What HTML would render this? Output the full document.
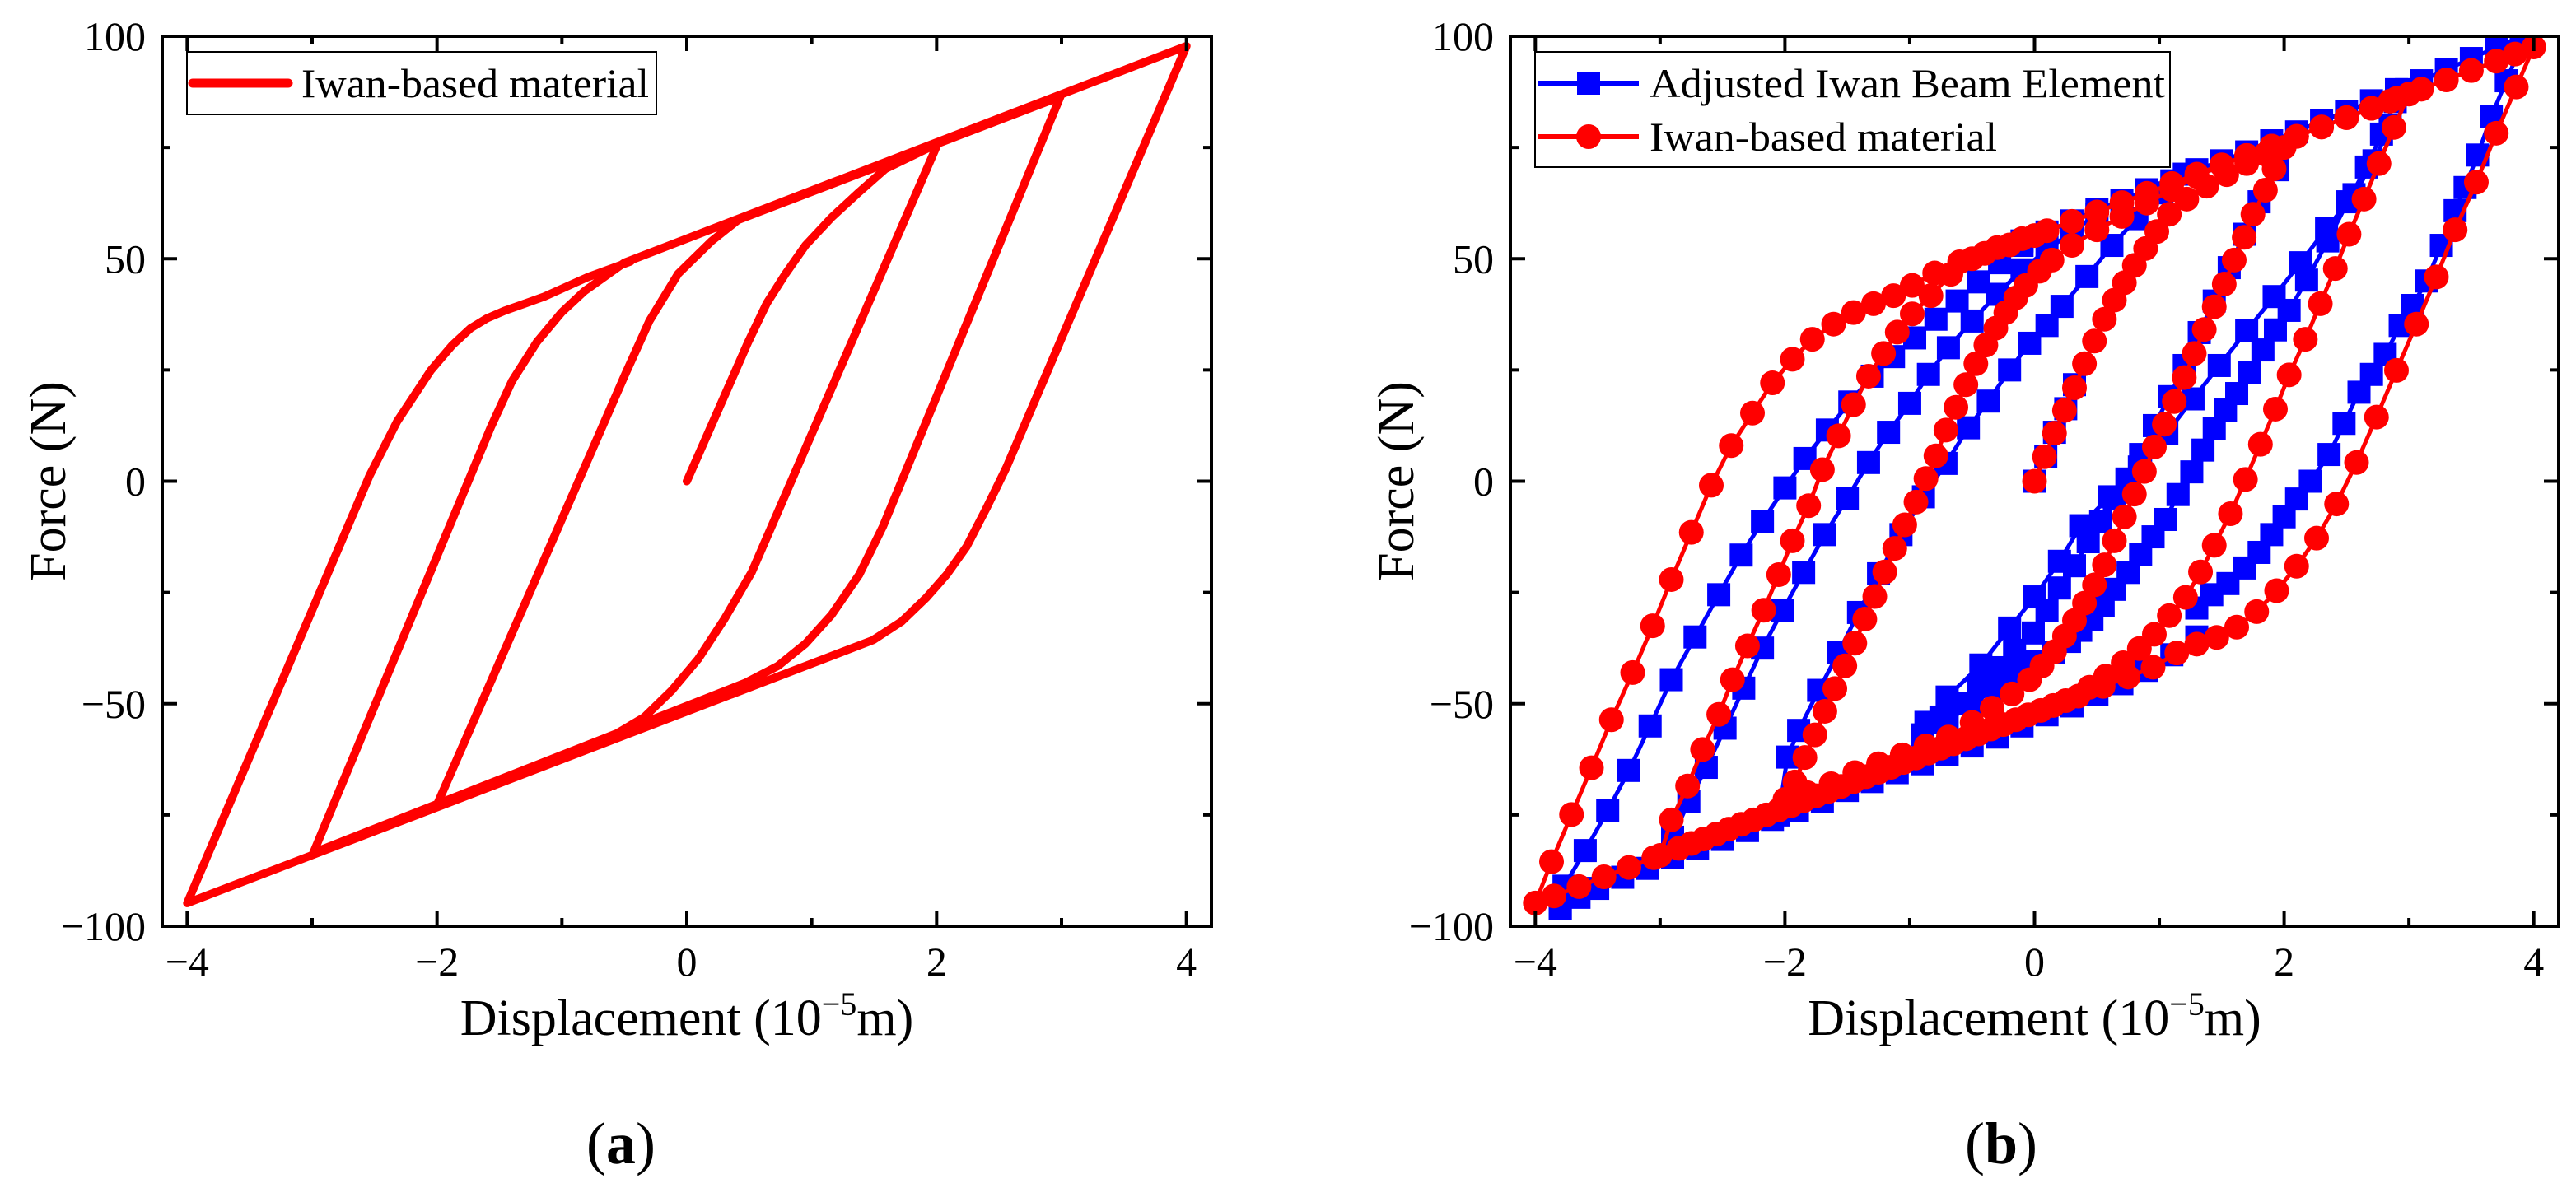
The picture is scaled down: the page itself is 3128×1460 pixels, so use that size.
<!DOCTYPE html>
<html><head><meta charset="utf-8"><style>
html,body{margin:0;padding:0;background:#fff;}
svg{display:block;}
text{font-family:"Liberation Serif","Times New Roman",serif;fill:#000;}
</style></head><body>
<svg id="fig" width="3128" height="1460" viewBox="0 0 3128 1460" xmlns="http://www.w3.org/2000/svg">
<defs>
<clipPath id="clipA"><rect x="197" y="44" width="1274" height="1081"/></clipPath>
<clipPath id="clipB"><rect x="1834" y="44" width="1273" height="1081"/></clipPath>
</defs>
<g id="panelA"></g>
<g id="panelB"></g>
</svg>
<script>
// ---------- tick data ----------
const xMajorTicks = [-4, -2, 0, 2, 4];
const xMinorTicks = [-3, -1, 1, 3];
const yMajorTicks = [-100, -50, 0, 50, 100];
const yMinorTicks = [-75, -25, 25, 75];
const xTickLabels = ["\u22124", "\u22122", "0", "2", "4"];
const yTickLabels = ["\u2212100", "\u221250", "0", "50", "100"];

// ---------- panel (a): Iwan-based material (single hysteresis path) ----------
const dispA = [0,0.49,0.64,0.79,0.95,1.16,1.38,1.59,2.01,
  0.52,0.30,0.09,-0.12,-0.34,-0.61,-2.0,
  -0.5,-0.3,-0.07,0.2,0.41,2.99,
  1.57,1.38,1.16,0.95,0.73,0.47,-2.99,
  -1.57,-1.4,-1.2,-1.0,-0.82,-0.5,4.0,
  2.56,2.4,2.24,2.08,1.92,1.72,1.49,-4.0,
  -2.54,-2.32,-2.05,-1.88,-1.73,-1.6,-1.46,-1.14,-0.8,-0.45];
const forceA = [0,31.2,40,46.6,53,59.3,65,70.2,75.9,
  -20.4,-31,-40,-47,-53,-57.5,-72.7,
  23.6,36,46.6,54,58.7,86.4,
  -10.2,-21,-30,-36.5,-41.5,-45.3,-83.5,
  12.1,22.5,31.3,38,42.7,49.1,97.8,
  3.2,-6,-14.7,-21,-26.1,-31.5,-35.7,-94.8,
  1.3,13.4,24.9,30.5,34.4,36.6,38.3,41.5,45.8,49.4];

// ---------- panel (b): Iwan-based material (red circles) ----------
const redX1 = [0,0.08,0.16,0.24,0.32,0.40,0.48,0.56,0.64,0.72,0.80,0.89,0.98,1.08,1.22,1.38,1.54,1.70,1.85,2.0];
const redY1 = [0,5.5,10.8,15.9,21,26.4,31.5,36.4,40.7,44.6,48.5,52.3,56.1,60,63.4,66.3,68.9,71.4,73.5,75];
const redX2 = [1.92,1.85,1.75,1.68,1.60,1.52,1.44,1.36,1.28,1.20,1.12,1.04,0.96,0.88,0.80,0.72,0.64,0.56,0.48,0.40,0.32,0.24,0.16,0.06,-0.04,-0.18,-0.34,-0.50,-0.69,-0.87,-1.06,-1.25,-1.44,-1.63,-1.82,-2.0];
const redY2 = [70.2,65.4,60,54.8,49.7,44.3,39.2,34.1,28.7,23.3,17.9,12.8,7.7,2.2,-2.9,-8,-13.4,-18.8,-23.3,-27.4,-31.3,-34.8,-38.3,-41.5,-44.6,-47.8,-51,-54.2,-57.5,-59.5,-61.5,-63.5,-65.5,-68,-70,-71.5];
const redX3 = [-1.92,-1.84,-1.76,-1.68,-1.60,-1.52,-1.44,-1.36,-1.28,-1.20,-1.12,-1.04,-0.95,-0.87,-0.79,-0.71,-0.63,-0.55,-0.47,-0.39,-0.31,-0.23,-0.15,-0.07,0.04,0.14,0.3,0.5,0.7,0.9,1.1,1.3,1.5,1.7,1.9,2.1,2.3,2.5,2.7,2.85,3.0];
const redY3 = [-67.6,-62.1,-57,-51.7,-46.6,-41.5,-36.4,-31,-25.9,-20.4,-15.1,-9.8,-4.7,0.6,5.7,11.5,16.6,21.7,26.4,30.6,34.4,37.9,41.2,44,47.2,49.7,53,56.5,59.5,62.5,65.5,68.5,71,73.2,75.3,77.5,79.6,81.7,83.8,85.4,87];
const redX4 = [2.88,2.76,2.64,2.52,2.41,2.29,2.17,2.04,1.93,1.81,1.69,1.57,1.44,1.33,1.21,1.08,0.96,0.84,0.71,0.57,0.44,0.25,0.05,-0.15,-0.35,-0.55,-0.75,-0.95,-1.15,-1.35,-1.55,-1.75,-1.95,-2.15,-2.35,-2.55,-2.75,-3.0];
const redY4 = [79.5,71.4,63.4,55.5,47.8,39.9,31.9,23.9,16.2,8.3,0.4,-7.3,-14.4,-20.4,-26.1,-30.2,-34.4,-37.6,-40.8,-43.8,-46.3,-49.3,-51.5,-53.6,-55.7,-57.9,-60,-62.2,-64.3,-66.4,-68.6,-70.7,-72.9,-75,-77.1,-79.3,-81.4,-84.1];
const redX5 = [-2.91,-2.78,-2.66,-2.53,-2.42,-2.30,-2.17,-2.05,-1.94,-1.81,-1.70,-1.57,-1.45,-1.33,-1.21,-1.10,-0.98,-0.83,-0.67,-0.5,-0.3,-0.1,0.1,0.3,0.5,0.7,0.9,1.1,1.3,1.5,1.7,1.9,2.1,2.3,2.5,2.7,2.9,3.1,3.3,3.5,3.7,3.85,4.0];
const redY5 = [-76.1,-68.5,-60.3,-52.4,-44.6,-37,-29,-21,-13.4,-5.5,2.6,10.2,17.2,23.6,28.7,33.5,37.6,41.7,46.5,50,52.5,54.5,56.3,58.4,60.5,62.6,64.7,66.9,69,71.1,73.2,75.3,77.5,79.6,81.7,83.8,86,88.1,90.2,92.3,94.4,96,97.6];
const redX6 = [3.86,3.70,3.54,3.37,3.22,3.06,2.90,2.74,2.58,2.42,2.26,2.10,1.94,1.78,1.62,1.46,1.30,1.14,0.95,0.75,0.55,0.35,0.15,-0.05,-0.25,-0.45,-0.65,-0.85,-1.05,-1.25,-1.45,-1.65,-1.85,-2.05,-2.25,-2.45,-2.65,-2.85,-3.05,-3.25,-3.45,-3.65,-3.85,-4.0];
const redY6 = [88.6,78.2,67.2,56.5,45.9,35.3,24.9,14.4,4.2,-5.1,-12.8,-19.1,-24.6,-29.3,-32.8,-35.1,-36.6,-38.6,-41.8,-44,-46.1,-48.3,-50.4,-52.5,-54.7,-56.8,-59,-61.1,-63.2,-65.4,-67.5,-69.7,-71.8,-73.9,-76.1,-78.2,-80.4,-82.5,-84.6,-86.8,-88.9,-91.1,-93.2,-94.8];
const redX7 = [-3.87,-3.71,-3.55,-3.39,-3.22,-3.06,-2.91,-2.75,-2.59,-2.43,-2.26,-2.10,-1.94,-1.78,-1.61,-1.45,-1.29,-1.13,-0.98,-0.8,-0.6,-0.4,-0.2,0];
const redY7 = [-85.5,-74.9,-64.4,-53.6,-43,-32.5,-22.1,-11.5,-0.9,8,15.3,22.1,27.4,31.9,35.3,37.9,39.9,41.7,44,46.8,49.3,51.2,53.1,55.2];

// ---------- panel (b): Adjusted Iwan Beam Element (blue squares) ----------
const blueX0 = [0,0.09,0.16,0.25,0.32];
const blueY0 = [0,5.6,11,16.3,21.7];
const blueXA = [-3.8,-3.77,-3.6,-3.42,-3.25,-3.08,-2.91,-2.72,-2.53,-2.35,-2.18,-2.0,-1.84,-1.66,-1.48,-1.30,-1.13,-0.96,-0.79,-0.62,-0.45,-0.28,-0.1];
const blueYA = [-96,-91,-83,-74,-65,-55,-44.6,-35,-25.5,-16.6,-9,-1.5,5.1,11.5,17.8,23.6,28,32.2,36.4,40.5,44.8,49.1,53];
const blueXB = [-2.9,-2.77,-2.63,-2.48,-2.33,-2.18,-2.02,-1.85,-1.68,-1.5,-1.33,-1.17,-1.0,-0.85,-0.69,-0.5,-0.3,-0.1,0.1,0.3,0.5];
const blueYB = [-80,-72,-64.3,-55.5,-46.5,-37.5,-29.1,-20.5,-12,-3.8,4.2,11,17.5,24,30,36,42,47.5,52,56,60];
const blueXC = [-2.05,-1.98,-1.89,-1.73,-1.57,-1.41,-1.25,-1.07,-0.89,-0.71,-0.53,-0.37,-0.2,-0.04,0.1,0.22,0.42,0.62,0.82,1.02,1.2];
const blueYC = [-75,-62,-56,-47,-38.5,-29.5,-20.8,-12,-3.5,4,12,18,25,31,35,39.3,46,53,59,64.8,69];
const blueXD = [-0.87,-0.7,-0.43,-0.2,0.0,0.2,0.37,0.6,0.84,1.06,1.27,1.48,1.70,1.92,2.13,2.34,2.56,2.72,2.85];
const blueYD = [-54.2,-48.5,-41.3,-33,-26,-18,-10,-3.5,3.2,10.8,18.5,26,33.8,41.5,49.1,56.8,64.4,72,80];
const blueXE2 = [1.95,1.80,1.68,1.56,1.44,1.32,1.2,1.08,0.96,0.85,0.74,0.64,0.53,0.43,0.32,0.2,0.1,-0.01,-0.16,-0.31,-0.45,-0.6,-0.75];
const blueYE2 = [70,62.8,55.5,48,40.5,33.4,26,19,12.5,6,0.5,-4,-9,-13.6,-19,-24,-29,-34.1,-38,-41.9,-46,-50,-53];
const blueXE3 = [2.98,2.89,2.78,2.66,2.51,2.35,2.18,2.04,1.93,1.83,1.72,1.62,1.53,1.44,1.35,1.26,1.15,1.05,0.95,0.85,0.75,0.64,0.55,0.46,0.37,0.28,0.15,0.0,-0.15,-0.3,-0.5,-0.7,-0.9];
const blueYE3 = [88,85.3,78,70.6,62.8,54,45.2,38.4,34,29.5,24.5,19.7,16,11.9,7,2.1,-3,-8.6,-12.5,-16.5,-20.5,-24.3,-28,-31.1,-33.5,-36,-38.5,-40.5,-43,-46.5,-50,-54,-57];
const blueXE4 = [3.9,3.78,3.66,3.55,3.45,3.37,3.26,3.14,3.03,2.93,2.81,2.7,2.6,2.48,2.36,2.21,2.1,2.0,1.9,1.8,1.68,1.55,1.42,1.3];
const blueYE4 = [97.9,90,82,73.3,66,60.8,53,45,39.5,35,28.5,24,20,13,6,0,-4,-8,-12,-16,-19.5,-23,-25.5,-28.5];
const blueXLow = [1.3,1.1,0.9,0.7,0.5,0.3,0.1,-0.1,-0.3,-0.5,-0.7,-0.9,-1.1,-1.3,-1.5,-1.7,-1.9,-2.1,-2.3,-2.5,-2.7,-2.9,-3.1,-3.3,-3.5,-3.65,-3.8];
const blueYLow = [-35,-39,-42.5,-45.5,-48,-50.5,-52.5,-55,-57.5,-59.5,-61.5,-63.5,-65.5,-67.5,-69.5,-72,-74,-76,-78.5,-80.5,-82.5,-84.5,-87,-89,-91.5,-93.5,-96];
const blueXUp = [-0.1,0.1,0.3,0.5,0.7,0.9,1.1,1.3,1.5,1.7,1.9,2.1,2.3,2.5,2.7,2.9,3.1,3.3,3.5,3.7,3.9];
const blueYUp = [54,56,58.5,61,63,65.5,67.5,70,72,74,76.5,78.5,81,83,85.5,88,90,92.5,95,97.5,100];

// ---------- helpers ----------
const NS = "http://www.w3.org/2000/svg";
function mk(tag, attrs, parent) {
  const e = document.createElementNS(NS, tag);
  for (const k in attrs) e.setAttribute(k, attrs[k]);
  if (parent) parent.appendChild(e);
  return e;
}
function makeAxes(L, T, W, H) {
  return {
    x: v => L + (v + 4.2) / 8.4 * W,
    y: v => T + (100 - v) / 200 * H,
    L: L, T: T, W: W, H: H
  };
}
const axA = makeAxes(197, 44, 1274, 1081);
const axB = makeAxes(1834, 44, 1273, 1081);

function drawFrame(g, ax, panelLetter, labelCx) {
  const {L, T, W, H} = ax;
  const R = L + W, B = T + H;
  xMajorTicks.forEach((v, i) => {
    const px = ax.x(v);
    const t1 = mk("line", {x1: px, y1: B, x2: px, y2: B - 18, stroke: "#000", "stroke-width": 4}, g);
    
    
    const t2 = mk("line", {x1: px, y1: T, x2: px, y2: T + 18, stroke: "#000", "stroke-width": 4}, g);
    
    
    const lb = mk("text", {x: px, y: B + 60, "font-size": 50, "text-anchor": "middle"}, g);
    lb.textContent = xTickLabels[i];
    
    
  });
  xMinorTicks.forEach(v => {
    const px = ax.x(v);
    const t1 = mk("line", {x1: px, y1: B, x2: px, y2: B - 10, stroke: "#000", "stroke-width": 4}, g);
    
    
    const t2 = mk("line", {x1: px, y1: T, x2: px, y2: T + 10, stroke: "#000", "stroke-width": 4}, g);
    
    
  });
  yMajorTicks.forEach((v, i) => {
    const py = ax.y(v);
    const t1 = mk("line", {x1: L, y1: py, x2: L + 18, y2: py, stroke: "#000", "stroke-width": 4}, g);
    
    
    const t2 = mk("line", {x1: R, y1: py, x2: R - 18, y2: py, stroke: "#000", "stroke-width": 4}, g);
    
    
    const lb = mk("text", {x: L - 20, y: py + 17, "font-size": 50, "text-anchor": "end"}, g);
    lb.textContent = yTickLabels[i];
    
    
  });
  yMinorTicks.forEach(v => {
    const py = ax.y(v);
    const t1 = mk("line", {x1: L, y1: py, x2: L + 10, y2: py, stroke: "#000", "stroke-width": 4}, g);
    
    
    const t2 = mk("line", {x1: R, y1: py, x2: R - 10, y2: py, stroke: "#000", "stroke-width": 4}, g);
    
    
  });
  const fr = mk("rect", {x: L, y: T, width: W, height: H, fill: "none", stroke: "#000", "stroke-width": 4}, g);
  
  
  const xt = mk("text", {x: L + W / 2, y: B + 132, "font-size": 62, "text-anchor": "middle"}, g);
  
  
  xt.appendChild(document.createTextNode("Displacement (10"));
  const sup = mk("tspan", {"font-size": 40, dy: -24}, xt);
  sup.textContent = "\u22125";
  const rest = mk("tspan", {dy: 24}, xt);
  rest.textContent = "m)";
  const yt = mk("text", {x: 0, y: 0, "font-size": 62, "text-anchor": "middle", transform: "translate(" + (L - 118) + "," + (T + H / 2) + ") rotate(-90)"}, g);
  yt.textContent = "Force (N)";
  
  
  const pl = mk("text", {x: labelCx, y: 1413, "font-size": 72, "text-anchor": "middle"}, g);
  
  
  pl.appendChild(document.createTextNode("("));
  const bl = mk("tspan", {"font-weight": "bold"}, pl);
  bl.textContent = panelLetter;
  pl.appendChild(document.createTextNode(")"));
}

function pathD(ax, xs, ys) {
  return xs.map((v, i) => (i ? "L" : "M") + ax.x(v).toFixed(1) + "," + ax.y(ys[i]).toFixed(1)).join(" ");
}

// ---------- panel A ----------
const gA = document.getElementById("panelA");
const dataA = mk("g", {"clip-path": "url(#clipA)"}, gA);
const curveA = mk("path", {d: pathD(axA, dispA, forceA), fill: "none", stroke: "#ff0000", "stroke-width": 10, "stroke-linejoin": "round", "stroke-linecap": "round"}, dataA);


drawFrame(gA, axA, "a", 754);
const legA = mk("g", {}, gA);


mk("rect", {x: 227, y: 63, width: 570, height: 76, fill: "#fff", stroke: "#000", "stroke-width": 2}, legA);
const llA = mk("line", {x1: 234, y1: 101, x2: 350, y2: 101, stroke: "#ff0000", "stroke-width": 11, "stroke-linecap": "round"}, legA);


const ltA = mk("text", {x: 366, y: 118, "font-size": 50, textLength: 422, lengthAdjust: "spacingAndGlyphs"}, legA);
ltA.textContent = "Iwan-based material";



// ---------- panel B ----------
const gB = document.getElementById("panelB");
const dataB = mk("g", {"clip-path": "url(#clipB)"}, gB);
const blueGroup = mk("g", {}, dataB);


const blueSets = [[blueX0, blueY0], [blueXA, blueYA], [blueXB, blueYB], [blueXC, blueYC], [blueXD, blueYD],
  [blueXE2, blueYE2], [blueXE3, blueYE3], [blueXE4, blueYE4], [blueXLow, blueYLow], [blueXUp, blueYUp]];
blueSets.forEach(s => {
  const p = mk("path", {d: pathD(axB, s[0], s[1]), fill: "none", stroke: "#0000ff", "stroke-width": 5}, blueGroup);
  
  
});
blueSets.forEach(s => {
  s[0].forEach((v, i) => {
    const r = mk("rect", {x: axB.x(v) - 14, y: axB.y(s[1][i]) - 14, width: 28, height: 28, fill: "#0000ff"}, blueGroup);
    
    
  });
});
const redGroup = mk("g", {}, dataB);


const redX = [].concat(redX1, redX2, redX3, redX4, redX5, redX6, redX7);
const redY = [].concat(redY1, redY2, redY3, redY4, redY5, redY6, redY7);
const redLine = mk("path", {d: pathD(axB, redX, redY), fill: "none", stroke: "#ff0000", "stroke-width": 5, "stroke-linejoin": "round"}, redGroup);


redX.forEach((v, i) => {
  const c = mk("circle", {cx: axB.x(v), cy: axB.y(redY[i]), r: 15, fill: "#ff0000"}, redGroup);
  
  
});
drawFrame(gB, axB, "b", 2430);
const legB = mk("g", {}, gB);


mk("rect", {x: 1864, y: 63, width: 771, height: 140, fill: "#fff", stroke: "#000", "stroke-width": 2}, legB);
mk("line", {x1: 1868, y1: 101, x2: 1990, y2: 101, stroke: "#0000ff", "stroke-width": 6}, legB);
const lsq = mk("rect", {x: 1915, y: 87, width: 28, height: 28, fill: "#0000ff"}, legB);


const lt1 = mk("text", {x: 2003, y: 118, "font-size": 50, textLength: 626, lengthAdjust: "spacingAndGlyphs"}, legB);
lt1.textContent = "Adjusted Iwan Beam Element";


mk("line", {x1: 1868, y1: 166, x2: 1990, y2: 166, stroke: "#ff0000", "stroke-width": 6}, legB);
const lci = mk("circle", {cx: 1929, cy: 166, r: 15, fill: "#ff0000"}, legB);


const lt2 = mk("text", {x: 2003, y: 183, "font-size": 50, textLength: 422, lengthAdjust: "spacingAndGlyphs"}, legB);
lt2.textContent = "Iwan-based material";


</script>
</body></html>
